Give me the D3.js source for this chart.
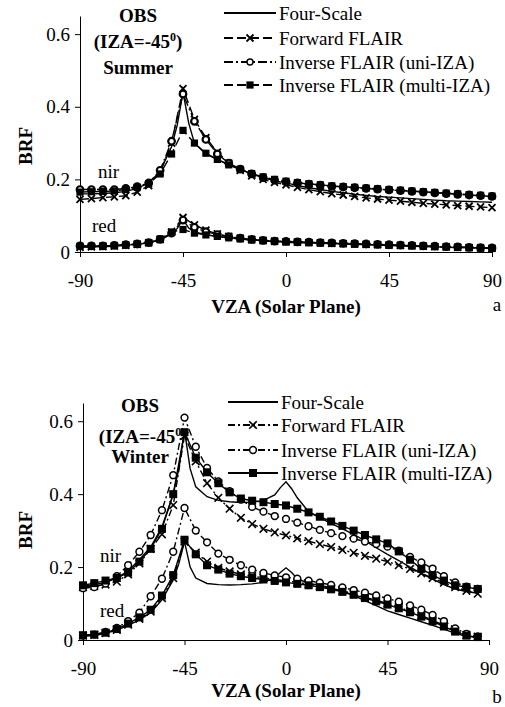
<!DOCTYPE html>
<html><head><meta charset="utf-8">
<script src="https://cdn.jsdelivr.net/npm/d3@7"></script>
<style>
body{margin:0;background:#fff}
svg{display:block}
svg text{font-family:'Liberation Serif','Times New Roman','DejaVu Serif',serif !important;fill:#000}
</style>
</head><body>
<svg id="chart" width="505" height="707"></svg>
<script>
// ---------- data ----------
const angles = [-90,-85,-80,-75,-70,-65,-60,-55,-50,-45,-40,-35,-30,-25,-20,-15,-10,-5,0,5,10,15,20,25,30,35,40,45,50,55,60,65,70,75,80,85,90];
const fsAngles = [-90,-85,-80,-75,-70,-65,-60,-55,-50,-47.5,-45,-42.5,-40,-35,-30,-25,-20,-15,-10,-5,-2.5,0,2.5,5,10,15,20,25,30,35,40,45,50,55,60,65,70,75,80,85,90];
const xTicks = [-90,-45,0,45,90];
const yTicks = [0,0.2,0.4,0.6];
const seriesNames = ["Four-Scale","Forward FLAIR","Inverse FLAIR (uni-IZA)","Inverse FLAIR (multi-IZA)"];

// Summer (panel a)
const summerNirFourScale = [0.160,0.160,0.161,0.163,0.167,0.175,0.190,0.222,0.290,0.350,0.440,0.355,0.300,0.270,0.255,0.240,0.227,0.215,0.205,0.197,0.193,0.190,0.187,0.183,0.177,0.172,0.167,0.163,0.159,0.156,0.153,0.151,0.149,0.147,0.145,0.143,0.141,0.140,0.139,0.138,0.137];
const summerNirForward = [0.145,0.147,0.150,0.152,0.155,0.165,0.183,0.220,0.300,0.450,0.365,0.315,0.275,0.245,0.225,0.210,0.200,0.192,0.185,0.178,0.172,0.166,0.161,0.157,0.153,0.149,0.146,0.143,0.140,0.137,0.134,0.132,0.130,0.128,0.126,0.124,0.122];
const summerNirUni = [0.172,0.172,0.172,0.172,0.175,0.180,0.190,0.225,0.305,0.435,0.360,0.310,0.270,0.245,0.228,0.215,0.205,0.198,0.193,0.190,0.187,0.184,0.181,0.179,0.177,0.175,0.173,0.171,0.169,0.167,0.165,0.163,0.161,0.159,0.157,0.155,0.153];
const summerNirMulti = [0.165,0.166,0.167,0.168,0.172,0.178,0.188,0.215,0.270,0.335,0.300,0.272,0.255,0.240,0.228,0.216,0.207,0.200,0.195,0.191,0.188,0.185,0.182,0.180,0.178,0.176,0.174,0.172,0.170,0.168,0.166,0.164,0.162,0.160,0.158,0.156,0.154];
const summerRedFourScale = [0.015,0.015,0.016,0.017,0.019,0.021,0.025,0.033,0.050,0.065,0.090,0.066,0.055,0.048,0.043,0.039,0.036,0.033,0.031,0.029,0.028,0.027,0.026,0.026,0.025,0.024,0.023,0.022,0.021,0.020,0.019,0.018,0.017,0.016,0.015,0.014,0.013,0.012,0.012,0.011,0.011];
const summerRedForward = [0.013,0.014,0.015,0.016,0.018,0.021,0.025,0.034,0.055,0.095,0.075,0.060,0.050,0.043,0.038,0.035,0.032,0.030,0.028,0.027,0.026,0.025,0.024,0.023,0.022,0.021,0.020,0.019,0.018,0.017,0.016,0.015,0.014,0.013,0.012,0.011,0.010];
const summerRedUni = [0.017,0.017,0.017,0.018,0.020,0.022,0.026,0.035,0.052,0.088,0.068,0.056,0.048,0.042,0.038,0.035,0.032,0.030,0.029,0.028,0.027,0.026,0.025,0.024,0.023,0.022,0.021,0.020,0.019,0.018,0.017,0.016,0.015,0.014,0.013,0.012,0.011];
const summerRedMulti = [0.016,0.016,0.017,0.018,0.020,0.022,0.026,0.036,0.055,0.062,0.052,0.047,0.043,0.039,0.036,0.033,0.031,0.029,0.028,0.027,0.026,0.025,0.024,0.023,0.022,0.021,0.020,0.019,0.018,0.017,0.016,0.015,0.014,0.013,0.012,0.011,0.010];

// Winter (panel b) - values up to VZA 85
const winterNirFourScale = [0.148,0.152,0.158,0.170,0.190,0.220,0.255,0.310,0.400,0.470,0.575,0.470,0.420,0.393,0.383,0.379,0.377,0.378,0.383,0.398,0.418,0.434,0.415,0.390,0.352,0.335,0.320,0.305,0.290,0.272,0.253,0.235,0.218,0.200,0.183,0.167,0.152,0.140,0.133,0.128];
const winterNirForward = [0.145,0.148,0.152,0.160,0.180,0.210,0.250,0.290,0.370,0.560,0.490,0.430,0.390,0.360,0.335,0.318,0.305,0.295,0.287,0.279,0.271,0.263,0.255,0.247,0.239,0.231,0.223,0.215,0.205,0.195,0.183,0.170,0.157,0.145,0.135,0.127];
const winterNirUni = [0.142,0.145,0.155,0.175,0.205,0.242,0.288,0.356,0.452,0.610,0.530,0.472,0.435,0.408,0.385,0.365,0.352,0.340,0.332,0.322,0.312,0.302,0.293,0.285,0.278,0.270,0.263,0.256,0.245,0.228,0.213,0.196,0.175,0.158,0.146,0.140];
const winterNirMulti = [0.150,0.156,0.163,0.170,0.185,0.215,0.250,0.305,0.400,0.570,0.500,0.460,0.430,0.405,0.388,0.382,0.378,0.373,0.369,0.360,0.350,0.338,0.325,0.313,0.300,0.288,0.276,0.265,0.243,0.220,0.195,0.178,0.163,0.150,0.145,0.140];
const winterRedFourScale = [0.010,0.012,0.018,0.027,0.040,0.055,0.075,0.110,0.165,0.210,0.270,0.200,0.170,0.155,0.152,0.151,0.152,0.154,0.158,0.170,0.185,0.198,0.185,0.168,0.155,0.150,0.143,0.133,0.122,0.108,0.094,0.080,0.070,0.060,0.050,0.040,0.030,0.018,0.010,0.007];
const winterRedForward = [0.012,0.014,0.019,0.028,0.042,0.058,0.078,0.115,0.170,0.270,0.240,0.215,0.198,0.188,0.180,0.175,0.170,0.166,0.162,0.158,0.153,0.148,0.142,0.135,0.127,0.118,0.109,0.100,0.090,0.079,0.067,0.054,0.040,0.026,0.014,0.009];
const winterRedUni = [0.012,0.015,0.022,0.033,0.052,0.075,0.120,0.168,0.242,0.362,0.300,0.268,0.237,0.220,0.205,0.193,0.184,0.177,0.172,0.168,0.163,0.157,0.151,0.144,0.137,0.130,0.122,0.114,0.105,0.095,0.083,0.069,0.052,0.032,0.017,0.010];
const winterRedMulti = [0.013,0.015,0.020,0.030,0.045,0.062,0.083,0.122,0.178,0.275,0.235,0.205,0.193,0.182,0.175,0.170,0.166,0.162,0.158,0.154,0.150,0.145,0.139,0.132,0.124,0.115,0.106,0.097,0.087,0.076,0.064,0.051,0.037,0.023,0.012,0.008];

// ---------- drawing ----------
const svg = d3.select("#chart");
const FS = 19;
const FONT = "'Liberation Serif','Times New Roman','DejaVu Serif',serif";

function txt(g) {
  return g.append("text").style("font-family", FONT).attr("font-size", FS).attr("fill", "#000");
}

function drawMarker(g, m, cx, cy) {
  if (m.type === "cross") {
    const h = m.size;
    g.append("path").attr("d", `M${cx-h},${cy-h}L${cx+h},${cy+h}M${cx-h},${cy+h}L${cx+h},${cy-h}`)
      .attr("stroke", "#000").attr("stroke-width", m.sw).attr("fill", "none");
  } else if (m.type === "circle") {
    g.append("circle").attr("cx", cx).attr("cy", cy).attr("r", m.size)
      .attr("fill", "#fff").attr("stroke", "#000").attr("stroke-width", m.sw);
  } else if (m.type === "square") {
    g.append("rect").attr("x", cx-m.size).attr("y", cy-m.size).attr("width", 2*m.size).attr("height", 2*m.size).attr("fill", "#000");
  }
}

function drawPanel(p) {
  const g = svg.append("g");
  const x = d3.scaleLinear().domain([-90, 90]).range([p.x0, p.x1]);
  const y = d3.scaleLinear().domain([0, 0.65]).range([p.yb, p.yt]);

  const xAxis = d3.axisBottom(x).tickValues(xTicks).tickSize(5).tickSizeOuter(0).tickPadding(17).tickFormat(d => String(d));
  const gx = g.append("g").attr("transform", `translate(0,${p.yb})`).call(xAxis);
  const yAxis = d3.axisLeft(y).tickValues(yTicks).tickSize(5).tickSizeOuter(0).tickPadding(5).tickFormat(d => d === 0 ? "0" : d.toFixed(1));
  const gy = g.append("g").attr("transform", `translate(${p.x0},0)`).call(yAxis);
  [gx, gy].forEach(a => {
    a.attr("font-family", null).attr("font-size", null);
    a.selectAll("path,line").attr("stroke", "#000").attr("stroke-width", 1);
    a.selectAll("text").style("font-family", FONT).attr("font-size", FS).attr("fill", "#000");
  });

  txt(g).attr("transform", `translate(${p.brfX},${p.brfY}) rotate(-90)`).attr("text-anchor", "middle")
    .attr("dominant-baseline", "central").attr("font-weight", "bold").text("BRF");
  txt(g).attr("x", (p.x0 + p.x1) / 2).attr("y", p.xlabY).attr("text-anchor", "middle")
    .attr("font-weight", "bold").text("VZA (Solar Plane)");
  txt(g).attr("x", 497).attr("y", p.letterY).attr("text-anchor", "middle").text(p.letter);

  txt(g).attr("x", p.titleX).attr("y", p.titleY[0]).attr("text-anchor", "middle").attr("font-weight", "bold").text("OBS");
  const t2 = txt(g).attr("x", p.titleX).attr("y", p.titleY[1]).attr("text-anchor", "middle").attr("font-weight", "bold");
  t2.append("tspan").text("(IZA=-45");
  t2.append("tspan").attr("dy", -7).attr("font-size", 12).text("0");
  if (p.closeParen) t2.append("tspan").attr("dy", 7).text(")");
  txt(g).attr("x", p.titleX).attr("y", p.titleY[2]).attr("text-anchor", "middle").attr("font-weight", "bold").text(p.season);

  txt(g).attr("x", p.nirPos[0]).attr("y", p.nirPos[1]).text("nir");
  txt(g).attr("x", p.redPos[0]).attr("y", p.redPos[1]).text("red");

  const line = d3.line().x(d => x(d[0])).y(d => y(d[1]));
  p.series.forEach(s => {
    const pts = s.values.map((v, i) => [s.angles[i], v]);
    g.append("path").datum(pts).attr("d", line).attr("fill", "none").attr("stroke", "#000")
      .attr("stroke-width", 1.4).attr("stroke-dasharray", s.dash || null);
    if (s.marker) pts.forEach(d => drawMarker(g, s.marker, x(d[0]), y(d[1])));
  });

  p.legend.forEach((l, i) => {
    const ly = p.legY[i];
    g.append("line").attr("x1", p.legX0).attr("x2", p.legX1).attr("y1", ly).attr("y2", ly)
      .attr("stroke", "#000").attr("stroke-width", 1.8).attr("stroke-dasharray", l.dash || null);
    if (l.marker) drawMarker(g, l.legMarker, (p.legX0 + p.legX1) / 2, ly);
    txt(g).attr("x", p.legX1 + 3).attr("y", ly).attr("dominant-baseline", "central").text(l.name);
  });
}

const summerStyles = [
  {dash: null, marker: null},
  {dash: "9,4", marker: {type: "cross", size: 3.5, sw: 1.8}, legMarker: {type: "cross", size: 3.5, sw: 1.8}},
  {dash: "9,3,2,3", marker: {type: "circle", size: 3.3, sw: 2.2}, legMarker: {type: "circle", size: 3, sw: 1.4}},
  {dash: "9,4", marker: {type: "square", size: 3.6}, legMarker: {type: "square", size: 3.6}}
];
const winterStyles = [
  {dash: null, marker: null},
  {dash: "7,3,2,3", marker: {type: "cross", size: 3.8, sw: 1.6}, legMarker: {type: "cross", size: 3.8, sw: 1.6}},
  {dash: "7,3,2,3", marker: {type: "circle", size: 3.4, sw: 1.5}, legMarker: {type: "circle", size: 3.4, sw: 1.5}},
  {dash: null, marker: {type: "square", size: 4}, legMarker: {type: "square", size: 4}}
];

function buildSeries(styles, fsNir, fwNir, uniNir, muNir, fsRed, fwRed, uniRed, muRed) {
  const out = [];
  [[fsRed, fwRed, uniRed, muRed], [fsNir, fwNir, uniNir, muNir]].forEach(set => {
    set.forEach((vals, k) => {
      out.push({values: vals, angles: k === 0 ? fsAngles : angles, dash: styles[k].dash, marker: styles[k].marker});
    });
  });
  return out;
}

drawPanel({
  x0: 80, x1: 492, yb: 252, yt: 16,
  brfX: 25, brfY: 146, xlabY: 313, letter: "a", letterY: 311,
  titleX: 138, titleY: [22, 48, 74], season: "Summer", closeParen: true,
  nirPos: [98, 178], redPos: [92, 232],
  series: buildSeries(summerStyles, summerNirFourScale, summerNirForward, summerNirUni, summerNirMulti,
                      summerRedFourScale, summerRedForward, summerRedUni, summerRedMulti),
  legend: seriesNames.map((n, i) => ({name: n, dash: summerStyles[i].dash, marker: summerStyles[i].marker, legMarker: summerStyles[i].legMarker})),
  legX0: 224, legX1: 276, legY: [13, 38, 62, 85]
});

drawPanel({
  x0: 83, x1: 489, yb: 640, yt: 403,
  brfX: 25, brfY: 530, xlabY: 697, letter: "b", letterY: 703,
  titleX: 140, titleY: [412, 443, 463], season: "Winter", closeParen: false,
  nirPos: [100, 562], redPos: [100, 617],
  series: buildSeries(winterStyles, winterNirFourScale, winterNirForward, winterNirUni, winterNirMulti,
                      winterRedFourScale, winterRedForward, winterRedUni, winterRedMulti),
  legend: seriesNames.map((n, i) => ({name: n, dash: winterStyles[i].dash, marker: winterStyles[i].marker, legMarker: winterStyles[i].legMarker})),
  legX0: 228, legX1: 278, legY: [402, 425, 450, 473]
});
</script>
</body></html>
